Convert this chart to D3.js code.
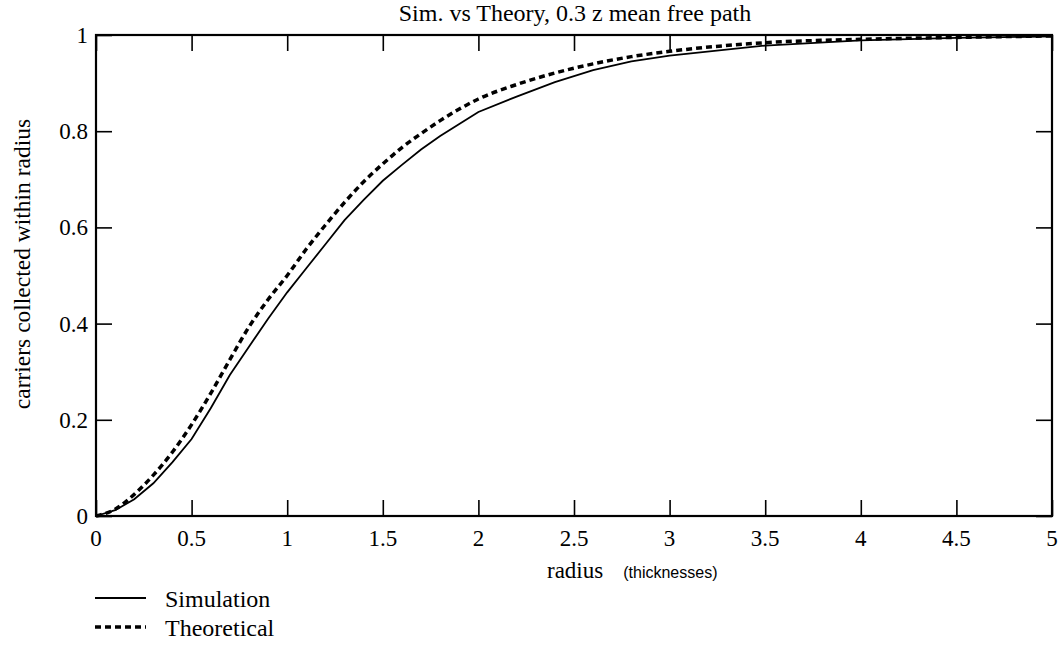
<!DOCTYPE html>
<html>
<head>
<meta charset="utf-8">
<script src="https://cdn.jsdelivr.net/npm/d3@7"></script>
<style>
  body { margin: 0; background: #fff; }
  svg text { font-family: "Liberation Serif", "Times New Roman", serif; fill: #000; }
</style>
</head>
<body>
<svg width="1063" height="645"></svg>
<script>
// radius (thicknesses) vs fraction of carriers collected
const radius = [0, 0.1, 0.2, 0.3, 0.4, 0.5, 0.6, 0.7, 0.8, 0.9, 1.0, 1.1, 1.2, 1.3, 1.4, 1.5,
  1.6, 1.7, 1.8, 1.9, 2.0, 2.2, 2.4, 2.6, 2.8, 3.0, 3.5, 4.0, 4.5, 5.0];
const simulation = [0, 0.012, 0.035, 0.068, 0.112, 0.16, 0.224, 0.293, 0.352, 0.41, 0.465, 0.515,
  0.565, 0.615, 0.657, 0.697, 0.73, 0.762, 0.79, 0.815, 0.84, 0.872, 0.902, 0.927, 0.945, 0.957,
  0.978, 0.989, 0.994, 0.997];
const theoretical = [0, 0.014, 0.045, 0.085, 0.133, 0.19, 0.255, 0.325, 0.393, 0.45, 0.50, 0.555,
  0.605, 0.652, 0.695, 0.732, 0.766, 0.795, 0.822, 0.846, 0.867, 0.897, 0.921, 0.94, 0.955, 0.966,
  0.984, 0.991, 0.995, 0.998];
const xTicks = [0, 0.5, 1, 1.5, 2, 2.5, 3, 3.5, 4, 4.5, 5];
const yTicks = [0, 0.2, 0.4, 0.6, 0.8, 1];

const svg = d3.select('svg');
const L = 96, R = 1052, T = 35, B = 516, TK = 16;
const x = d3.scaleLinear().domain([0, 5]).range([L, R]);
const y = d3.scaleLinear().domain([0, 1]).range([B, T]);

// inward ticks on all four sides, labels drawn separately
const ticks = (axis, transform) => svg.append('g').attr('transform', transform)
  .call(axis.tickSize(-TK)).call(s => s.select('.domain').remove())
  .call(s => s.selectAll('line').attr('stroke', '#000').attr('stroke-width', 1.6))
  .call(s => s.selectAll('text').remove());
ticks(d3.axisBottom(x).tickValues(xTicks), `translate(0,${B})`);
ticks(d3.axisTop(x).tickValues(xTicks), `translate(0,${T})`);
ticks(d3.axisLeft(y).tickValues(yTicks), `translate(${L},0)`);
ticks(d3.axisRight(y).tickValues(yTicks), `translate(${R},0)`);

svg.append('rect').attr('x', L).attr('y', T).attr('width', R - L).attr('height', B - T)
  .attr('fill', 'none').attr('stroke', '#000').attr('stroke-width', 2.2);

// tick labels
svg.append('g').selectAll('text').data(xTicks).join('text')
  .attr('x', d => x(d)).attr('y', B + 30).attr('text-anchor', 'middle')
  .attr('font-size', 23).text(d => d);
svg.append('g').selectAll('text').data(yTicks).join('text')
  .attr('x', L - 8).attr('y', d => y(d) + 8).attr('text-anchor', 'end')
  .attr('font-size', 23).text(d => d);

// curves
const simLine = d3.line().x(d => x(d[0])).y(d => y(d[1]));
const theoLine = d3.line().x(d => x(d[0])).y(d => y(d[1])).curve(d3.curveMonotoneX);
svg.append('path').attr('d', simLine(radius.map((r, i) => [r, simulation[i]])))
  .attr('fill', 'none').attr('stroke', '#000').attr('stroke-width', 1.8);
svg.append('path').attr('d', theoLine(radius.map((r, i) => [r, theoretical[i]])))
  .attr('fill', 'none').attr('stroke', '#000').attr('stroke-width', 3.5)
  .attr('stroke-dasharray', '6,4');

// titles
svg.append('text').attr('x', 575).attr('y', 21).attr('text-anchor', 'middle')
  .attr('font-size', 24).text('Sim. vs Theory, 0.3 z mean free path');
const xl = svg.append('text').attr('x', 547).attr('y', 578);
xl.append('tspan').attr('font-size', 23).text('radius');
xl.append('tspan').attr('font-size', 16).attr('dx', 20)
  .style('font-family', '"Liberation Sans", Arial, sans-serif').text('(thicknesses)');
svg.append('text').attr('transform', 'translate(30,264) rotate(-90)')
  .attr('text-anchor', 'middle').attr('font-size', 23.5).text('carriers collected within radius');

// legend
const legend = [{ name: 'Simulation', dash: null, w: 1.8 }, { name: 'Theoretical', dash: '6,4', w: 3.5 }];
const lg = svg.append('g').selectAll('g').data(legend).join('g')
  .attr('transform', (d, i) => `translate(95,${598 + i * 29})`);
lg.append('line').attr('x1', 0).attr('x2', 51).attr('stroke', '#000')
  .attr('stroke-width', d => d.w).attr('stroke-dasharray', d => d.dash);
lg.append('text').attr('x', 70).attr('y', 9).attr('font-size', 24).text(d => d.name);
</script>
</body>
</html>
